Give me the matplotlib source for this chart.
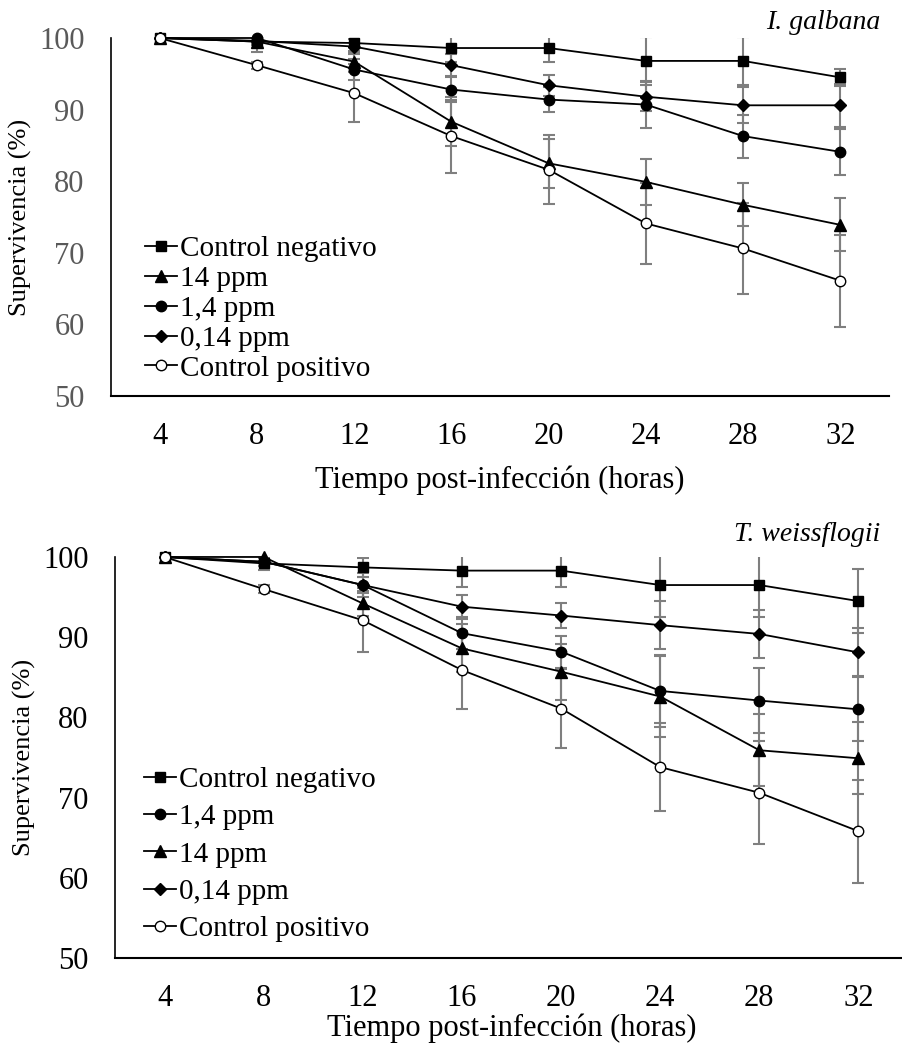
import matplotlib
matplotlib.use('Agg')
import matplotlib.pyplot as plt

plt.rcParams['font.family'] = ['Liberation Serif', 'DejaVu Serif']

hours = [4, 8, 12, 16, 20, 24, 28, 32]

# I. galbana
ig_neg = [100, 99.5, 99.3, 98.6, 98.6, 96.8, 96.8, 94.5]
ig_14 = [100, 99.5, 96.7, 88.3, 82.5, 79.9, 76.7, 73.9]
ig_1_4 = [100, 100, 95.6, 92.8, 91.4, 90.7, 86.3, 84.1]
ig_0_14 = [100, 99.6, 98.8, 96.2, 93.4, 91.8, 90.6, 90.6]
ig_pos = [100, 96.2, 92.3, 86.3, 81.6, 74.1, 70.6, 66.1]

ig_neg_err = [0, 1.5, 1.2, 2.0, 2.0, 3.4, 3.4, 1.2]
ig_14_err = [0, 0.5, 1.5, 3.4, 3.4, 3.2, 3.0, 3.7]
ig_1_4_err = [0, 0.5, 1.5, 1.8, 1.8, 3.3, 3.0, 3.2]
ig_0_14_err = [0, 0.5, 1.0, 1.5, 1.5, 2.0, 2.5, 3.0]
ig_pos_err = [0, 0.5, 4.1, 5.1, 4.8, 5.6, 6.4, 6.4]

# T. weissflogii
tw_neg = [100, 99.2, 98.7, 98.3, 98.3, 96.5, 96.5, 94.5]
tw_1_4 = [100, 99.4, 96.5, 90.5, 88.2, 83.3, 82.1, 81.0]
tw_14 = [100, 100, 94.2, 88.6, 85.7, 82.6, 75.9, 74.9]
tw_0_14 = [100, 99.4, 96.5, 93.8, 92.7, 91.5, 90.4, 88.1]
tw_pos = [100, 96.0, 92.1, 85.9, 81.1, 73.8, 70.6, 65.8]

tw_neg_err = [0, 0.8, 1.2, 2.0, 2.0, 4.0, 4.0, 4.0]
tw_1_4_err = [0, 0.5, 1.5, 2.0, 2.0, 4.5, 4.0, 4.0]
tw_14_err = [0, 0.5, 1.5, 3.0, 3.5, 5.0, 4.5, 4.5]
tw_0_14_err = [0, 0.5, 1.0, 1.5, 1.5, 3.0, 3.0, 3.0]
tw_pos_err = [0, 0.5, 4.0, 4.9, 4.9, 5.5, 6.4, 6.4]

styles = {
    'Control negativo': dict(marker='s', ms=7.5, mfc='black'),
    '14 ppm': dict(marker='^', ms=8, mfc='black'),
    '1,4 ppm': dict(marker='o', ms=7.5, mfc='black'),
    '0,14 ppm': dict(marker='D', ms=6, mfc='black'),
    'Control positivo': dict(marker='o', ms=7.5, mfc='white'),
}


def draw(ax, series, tick_color, legend_anchor, spacing):
    for label, vals, err in series:
        ax.errorbar(hours, vals, yerr=err, fmt='none', ecolor='#7f7f7f',
                    elinewidth=1.5, capsize=4.5, capthick=1.5, zorder=2)
    handles = []
    for label, vals, err in series:
        ln, = ax.plot(hours, vals, color='black', lw=1.3, mec='black',
                      label=label, clip_on=False, zorder=3, **styles[label])
        handles.append(ln)
    ax.set_xlim(2, 34)
    ax.set_ylim(50, 100)
    ax.set_xticks(hours)
    ax.set_yticks([50, 60, 70, 80, 90, 100])
    ax.tick_params(length=0, labelsize=22, pad=19)
    ax.tick_params(axis='y', labelcolor=tick_color)
    for s in ['top', 'right']:
        ax.spines[s].set_visible(False)
    ax.spines['left'].set_linewidth(1.2)
    ax.spines['bottom'].set_linewidth(1.5)
    ax.set_ylabel('Supervivencia (%)', fontsize=19, labelpad=5)
    ax.legend(handles=handles, loc='lower left', bbox_to_anchor=legend_anchor,
              frameon=False, fontsize=21, handlelength=1.1, handletextpad=0.1,
              labelspacing=spacing, borderpad=0, borderaxespad=0)


fig = plt.figure(figsize=(9.02, 10.44), dpi=100)

ax1 = fig.add_axes([0.1231, 0.6207, 0.8625, 0.3429])
draw(ax1, [('Control negativo', ig_neg, ig_neg_err),
           ('14 ppm', ig_14, ig_14_err),
           ('1,4 ppm', ig_1_4, ig_1_4_err),
           ('0,14 ppm', ig_0_14, ig_0_14_err),
           ('Control positivo', ig_pos, ig_pos_err)],
     '#595959', (0.044, 0.04), 0.12)
ax1.set_xlabel('Tiempo post-infección (horas)', fontsize=22, labelpad=10)

ax2 = fig.add_axes([0.1275, 0.0824, 0.8792, 0.3841])
draw(ax2, [('Control negativo', tw_neg, tw_neg_err),
           ('1,4 ppm', tw_1_4, tw_1_4_err),
           ('14 ppm', tw_14, tw_14_err),
           ('0,14 ppm', tw_0_14, tw_0_14_err),
           ('Control positivo', tw_pos, tw_pos_err)],
     'black', (0.036, 0.04), 0.37)
ax2.set_xlabel('Tiempo post-infección (horas)', fontsize=22, labelpad=0)

fig.text(0.976, 0.978, 'I. galbana', style='italic', fontsize=20,
         ha='right', va='center')
fig.text(0.976, 0.488, 'T. weissflogii', style='italic', fontsize=20,
         ha='right', va='center')

fig.savefig('out.png', dpi=100)
